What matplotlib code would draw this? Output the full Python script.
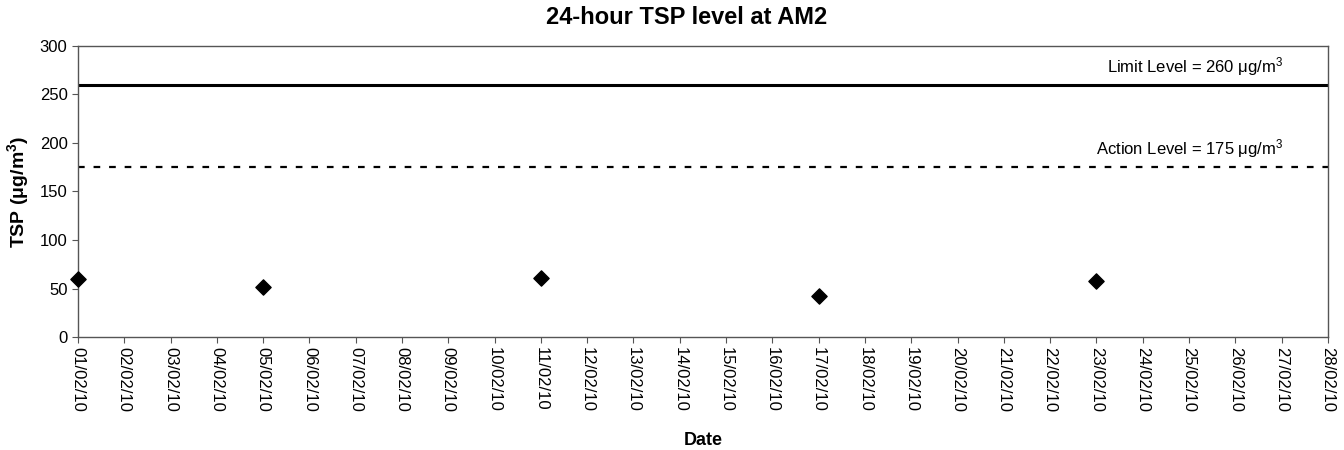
import datetime as dt
import matplotlib
matplotlib.use('Agg')
import matplotlib.pyplot as plt
import matplotlib.dates as mdates

plt.rcParams['font.family'] = ['Liberation Sans', 'DejaVu Sans']

sample_dates = [dt.date(2010, 2, 1), dt.date(2010, 2, 5), dt.date(2010, 2, 11),
                dt.date(2010, 2, 17), dt.date(2010, 2, 23)]
tsp_values = [60, 52, 61, 42, 58]
limit_level = 260
action_level = 175
start_date = dt.date(2010, 2, 1)
end_date = dt.date(2010, 2, 28)

fig = plt.figure(figsize=(13.44, 4.5), dpi=100)
ax = fig.add_axes([0.058, 0.251, 0.93, 0.647])

ax.scatter(sample_dates, tsp_values, marker='D', s=60, c='black', zorder=3, clip_on=False)
ax.axhline(limit_level, color='black', lw=2.2)
ax.axhline(action_level, color='black', lw=1.6, ls=(0, (3, 4)))

ax.text(0.964, limit_level + 7, 'Limit Level = 260 $\\mathregular{\\mu g/m^3}$',
        transform=ax.get_yaxis_transform(), ha='right', va='bottom', fontsize=12)
ax.text(0.964, action_level + 7, 'Action Level = 175 $\\mathregular{\\mu g/m^3}$',
        transform=ax.get_yaxis_transform(), ha='right', va='bottom', fontsize=12)

ax.set_xlim(start_date, end_date)
ax.set_ylim(0, 300)
ax.set_yticks(range(0, 301, 50))
ax.xaxis.set_major_locator(mdates.DayLocator())
ax.xaxis.set_major_formatter(mdates.DateFormatter('%d/%m/%y'))
plt.setp(ax.get_xticklabels(), rotation=-90, ha='center', va='top')
ax.tick_params(labelsize=12, length=4, color='#555555')

for s in ax.spines.values():
    s.set_color('#555555')
    s.set_linewidth(1.0)

ax.set_title('24-hour TSP level at AM2', fontsize=17, fontweight='bold', pad=16, x=0.487)
ax.set_ylabel('TSP ($\\mathregular{\\mu g/m^3}$)', fontsize=14, fontweight='bold', labelpad=6)
ax.set_xlabel('Date', fontsize=13, fontweight='bold', labelpad=14)

fig.savefig('out.png', dpi=100)
